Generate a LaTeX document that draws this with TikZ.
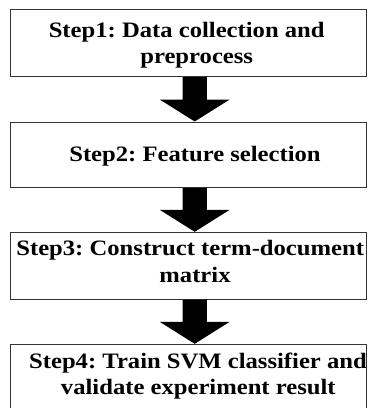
\documentclass[tikz,border=0pt]{standalone}
\usepackage{fontspec}
\newfontfamily\stepfont{Liberation Serif}[FakeStretch=1.12]
\usetikzlibrary{calc}
\frenchspacing
\newcommand\stepArrow[2]{%
  \fill[blockarrow] ($(#1.south)+(-5.9,0)$) -- ($(#1.south)+(18.5,0)$)
    -- ($(#2.north)+(18.5,-22)$) -- ($(#2.north)+(41.3,-22)$)
    -- ($(#2.north)+(6.3,0)$)
    -- ($(#2.north)+(-28.7,-22)$) -- ($(#2.north)+(-5.9,-22)$) -- cycle;}
\begin{document}
\begin{tikzpicture}[x=1pt,y=-1pt,
  stepbox/.style={draw=black!80, line width=1pt, rectangle, inner sep=0pt, minimum width=356.2pt},
  steptext/.style={anchor=base, inner sep=0pt, font=\frenchspacing\stepfont\bfseries\fontsize{22}{26.7}\selectfont},
  blockarrow/.style={fill=black, draw=none}]
\useasboundingbox (0,0) rectangle (368,408);
\clip (0,0) rectangle (368,408);
\node[stepbox, minimum height=67.4pt] (b1) at (188.4,43) {};
\node[stepbox, minimum height=65.3pt] (b2) at (188.4,154.65) {};
\node[stepbox, minimum height=66.7pt] (b3) at (188.4,265.65) {};
\node[stepbox, minimum height=70pt] (b4) at (188.4,379.3) {};
\stepArrow{b1}{b2}
\stepArrow{b2}{b3}
\stepArrow{b3}{b4}
\node[steptext] (t1a) at (186.7,37) {Step1: Data collection and};
\node[steptext] (t1b) at (196.7,63.5) {preprocess};
\node[steptext] (t2) at (195,161) {Step2: Feature selection};
\node[steptext] (t3a) at (190.2,255.5) {Step3: Construct term-document};
\node[steptext] (t3b) at (195,282) {matrix};
\node[steptext] (t4a) at (198,368) {Step4: Train SVM classifier and};
\node[steptext] (t4b) at (198.3,394.5) {validate experiment result};
\end{tikzpicture}
\end{document}
